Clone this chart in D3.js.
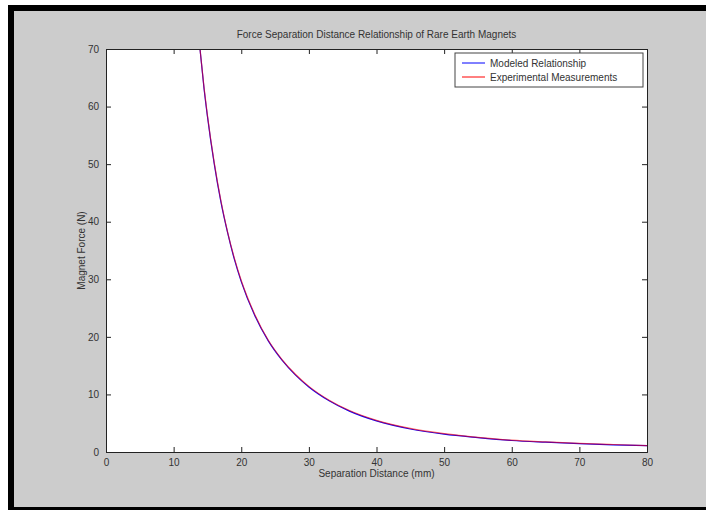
<!DOCTYPE html>
<html>
<head>
<meta charset="utf-8">
<script src="https://cdn.jsdelivr.net/npm/d3@7"></script>
<style>
  body { margin: 0; background: #fff; }
  text { font-family: "Liberation Sans", Arial, sans-serif; }
</style>
</head>
<body>
<svg id="chart" width="706" height="510"></svg>
<script>
// values
const distance = [13.9, 14.5, 15, 16, 17, 18, 19, 20, 22, 24, 26, 28, 30, 33, 36, 40, 45, 50, 55, 60, 65, 70, 75, 80];
const modeled = [70, 63.1, 58.3, 50.1, 43.4, 38.0, 33.4, 29.6, 23.7, 19.3, 16.0, 13.4, 11.3, 8.9, 7.1, 5.4, 4.0, 3.1, 2.5, 2.0, 1.7, 1.45, 1.25, 1.1];
const measured = [70, 63.3, 58.5, 50.3, 43.6, 38.1, 33.6, 29.8, 23.9, 19.4, 16.1, 13.5, 11.4, 9.0, 7.2, 5.5, 4.1, 3.2, 2.55, 2.05, 1.75, 1.5, 1.3, 1.12];
const xTicks = [0, 10, 20, 30, 40, 50, 60, 70, 80];
const yTicks = [0, 10, 20, 30, 40, 50, 60, 70];
const seriesNames = ['Modeled Relationship', 'Experimental Measurements'];
const seriesColors = ['#0000ff', '#ff0000'];

const svg = d3.select('#chart');

// figure frame
svg.append('rect').attr('x', 8).attr('y', 5).attr('width', 698).attr('height', 505).attr('fill', '#000');
svg.append('rect').attr('x', 14).attr('y', 11).attr('width', 692).attr('height', 496).attr('fill', '#cccccc');

const plotL = 106, plotR = 647, plotT = 49, plotB = 452;

const x = d3.scaleLinear().domain([0, 80]).range([plotL, plotR]);
const y = d3.scaleLinear().domain([0, 70]).range([plotB, plotT]);

svg.append('rect')
    .attr('x', plotL).attr('y', plotT)
    .attr('width', plotR - plotL).attr('height', plotB - plotT)
    .attr('fill', '#fff');

// clip curves to the axes box
svg.append('clipPath').attr('id', 'plotClip')
    .append('rect').attr('x', plotL).attr('y', plotT)
    .attr('width', plotR - plotL).attr('height', plotB - plotT);

const line = d3.line()
    .x(d => x(d[0]))
    .y(d => y(d[1]))
    .curve(d3.curveMonotoneX);

[modeled, measured].forEach((vals, i) => {
    svg.append('path')
        .datum(distance.map((d, j) => [d, vals[j]]))
        .attr('clip-path', 'url(#plotClip)')
        .attr('fill', 'none')
        .attr('stroke', seriesColors[i])
        .attr('stroke-opacity', i === 1 ? 0.6 : 1)
        .attr('stroke-width', 1.2)
        .attr('d', line);
});

// axes, ticks pointing inward, box on all sides
const tickLen = 5;
const xAxisB = d3.axisBottom(x).tickValues(xTicks).tickSize(-tickLen).tickPadding(7);
const xAxisT = d3.axisTop(x).tickValues(xTicks).tickSize(-tickLen).tickFormat('');
const yAxisL = d3.axisLeft(y).tickValues(yTicks).tickSize(-tickLen).tickPadding(7);
const yAxisR = d3.axisRight(y).tickValues(yTicks).tickSize(-tickLen).tickFormat('');

const axes = [
    svg.append('g').attr('transform', `translate(0,${plotB})`).call(xAxisB),
    svg.append('g').attr('transform', `translate(0,${plotT})`).call(xAxisT),
    svg.append('g').attr('transform', `translate(${plotL},0)`).call(yAxisL),
    svg.append('g').attr('transform', `translate(${plotR},0)`).call(yAxisR)
];
axes.forEach(g => {
    g.select('.domain').attr('stroke', '#222');
    g.selectAll('.tick line').attr('stroke', '#222');
    g.selectAll('text').attr('fill', '#333').style('font-size', '10px');
});

// title and labels
svg.append('text')
    .attr('x', (plotL + plotR) / 2).attr('y', 38)
    .attr('text-anchor', 'middle')
    .attr('fill', '#333').style('font-size', '10px')
    .text('Force Separation Distance Relationship of Rare Earth Magnets');

svg.append('text')
    .attr('x', (plotL + plotR) / 2).attr('y', 477)
    .attr('text-anchor', 'middle')
    .attr('fill', '#333').style('font-size', '10px')
    .text('Separation Distance (mm)');

svg.append('text')
    .attr('transform', `translate(85,${(plotT + plotB) / 2}) rotate(-90)`)
    .attr('text-anchor', 'middle')
    .attr('fill', '#333').style('font-size', '10px')
    .text('Magnet Force (N)');

// legend
const legend = svg.append('g').attr('transform', 'translate(455,53)');
legend.append('rect')
    .attr('width', 188).attr('height', 34)
    .attr('fill', '#fff').attr('stroke', '#444');
seriesNames.forEach((name, i) => {
    const ly = 10 + i * 14;
    legend.append('line')
        .attr('x1', 7).attr('x2', 30).attr('y1', ly).attr('y2', ly)
        .attr('stroke', seriesColors[i]);
    legend.append('text')
        .attr('x', 35).attr('y', ly + 3.5)
        .attr('fill', '#333').style('font-size', '10px')
        .text(name);
});
</script>
</body>
</html>
